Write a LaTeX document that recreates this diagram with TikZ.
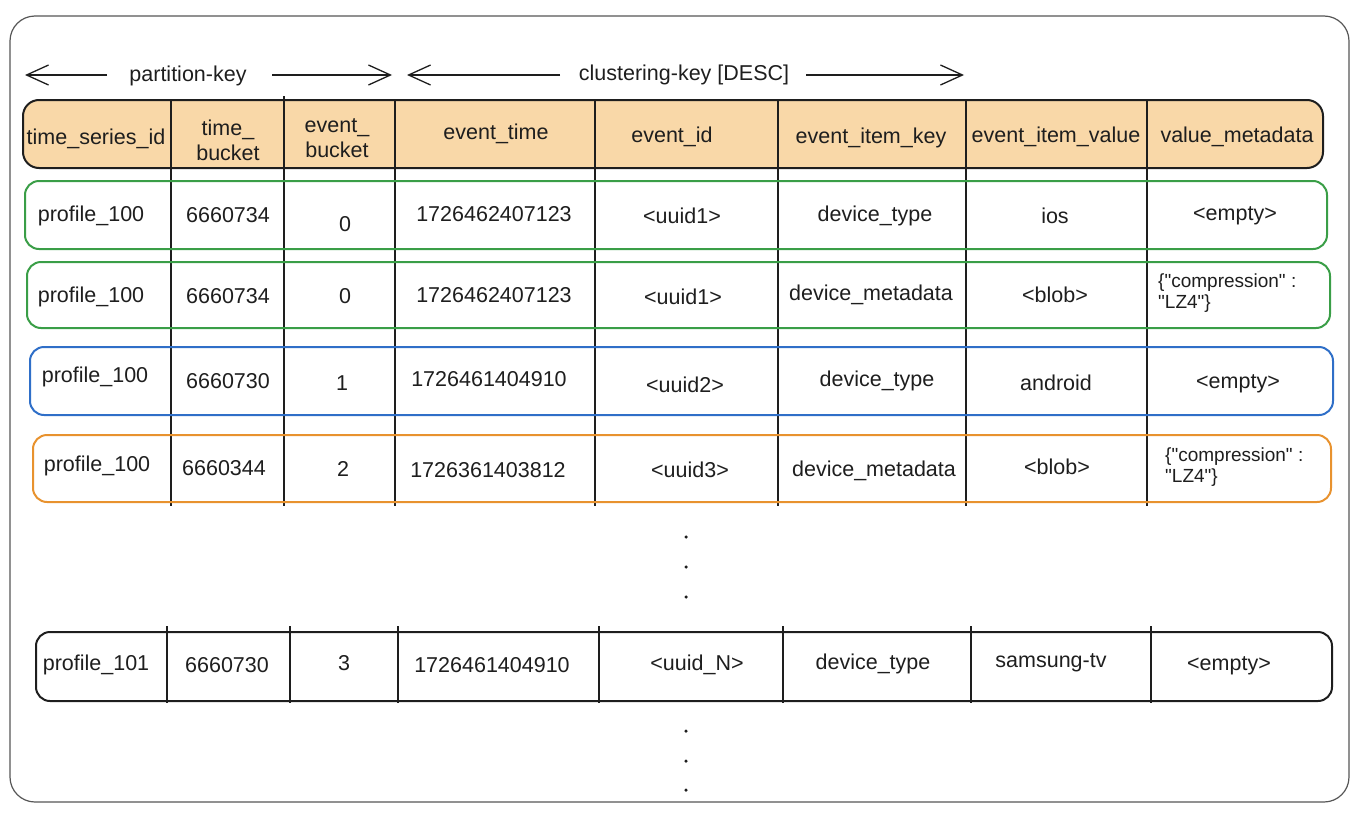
\documentclass[tikz,border=0pt]{standalone}
\usepackage{fontspec}
\setmainfont{Liberation Sans}[Ligatures=TeXOff]
\usetikzlibrary{arrows.meta}
\definecolor{hdrfill}{HTML}{F9D8A8}
\definecolor{rgreen}{HTML}{3A9E47}
\definecolor{rblue}{HTML}{2F6FC8}
\definecolor{rorange}{HTML}{E8922E}
\definecolor{ink}{HTML}{1E1E1E}
\begin{document}
\begin{tikzpicture}[x=1pt,y=-1pt,
  frame/.style={draw=ink!75, line width=1.2pt, rounded corners=25pt},
  hdr/.style={draw=ink, fill=hdrfill, line width=2pt, rounded corners=16pt},
  rowbox/.style={line width=2pt, rounded corners=14pt},
  divider/.style={draw=ink, line width=2pt},
  cell/.style={font=\fontsize{21.5}{25}\selectfont, text=ink, inner sep=0pt, align=center},
  meta/.style={font=\fontsize{19}{21}\selectfont, text=ink, inner sep=0pt, align=left, anchor=west},
  keyarrow/.style={draw=ink, line width=1.3pt, -{Straight Barb[length=22pt,width=20pt,line width=1.3pt]}},
  dotmark/.style={fill=ink, circle, inner sep=0pt, minimum size=3.5pt}
]
\useasboundingbox (0,0) rectangle (1360,814);
% outer frame
\draw[frame] (10,16) rectangle (1349,802);

% key arrows
\coordinate (pkA) at (107,75);
\coordinate (pkB) at (25,75);
\coordinate (pkC) at (272,75);
\coordinate (pkD) at (392,75);
\coordinate (ckA) at (560,75);
\coordinate (ckB) at (407,75);
\coordinate (ckC) at (806,75);
\coordinate (ckD) at (964,75);
\node[cell] (pk) at (188,76) {partition-key};
\node[cell] (ck) at (684,75) {clustering-key [DESC]};
\draw[keyarrow] (pkA) -- (pkB);
\draw[keyarrow] (pkC) -- (pkD);
\draw[keyarrow] (ckA) -- (ckB);
\draw[keyarrow] (ckC) -- (ckD);

% header
\draw[hdr] (23,100) rectangle (1323,168);

% column dividers (header + rows 1-4)
\foreach \x/\t in {171/100,284/96,395/100,595/100,778/100,966/100,1147/100}
  \draw[divider] (\x,\t) -- (\x,506);

% header texts
\node[cell] (h1) at (96,139) {time\_series\_id};
\node[cell] (h2) at (228,140) {time\_\\bucket};
\node[cell] (h3) at (337,138) {event\_\\bucket};
\node[cell] (h4) at (496,134) {event\_time};
\node[cell] (h5) at (672,137) {event\_id};
\node[cell] (h6) at (871,138) {event\_item\_key};
\node[cell] (h7) at (1056,137) {event\_item\_value};
\node[cell] (h8) at (1237,137) {value\_metadata};

% row 1
\draw[rowbox, draw=rgreen] (25,181) rectangle (1327,249);
\node[cell] (a1) at (91,216) {profile\_100};
\node[cell] (a2) at (228,215) {6660734};
\node[cell] (a3) at (345,224) {0};
\node[cell] (a4) at (494,214) {1726462407123};
\node[cell] (a5) at (682,216) {<uuid1>};
\node[cell] (a6) at (875,216) {device\_type};
\node[cell] (a7) at (1055,216) {ios};
\node[cell] (a8) at (1235,216) {<empty>};

% row 2
\draw[rowbox, draw=rgreen] (27,262) rectangle (1330,328);
\node[cell] (b1) at (91,297) {profile\_100};
\node[cell] (b2) at (228,296) {6660734};
\node[cell] (b3) at (345,296) {0};
\node[cell] (b4) at (494,295) {1726462407123};
\node[cell] (b5) at (683,297) {<uuid1>};
\node[cell] (b6) at (871,295) {device\_metadata};
\node[cell] (b7) at (1055,295) {<blob>};
\node[meta] (b8) at (1158,293) {\{"compression" :\\"LZ4"\}};

% row 3
\draw[rowbox, draw=rblue] (30,347) rectangle (1333,415);
\node[cell] (c1) at (95,377) {profile\_100};
\node[cell] (c2) at (228,381) {6660730};
\node[cell] (c3) at (342,383) {1};
\node[cell] (c4) at (489,379) {1726461404910};
\node[cell] (c5) at (685,385) {<uuid2>};
\node[cell] (c6) at (877,381) {device\_type};
\node[cell] (c7) at (1056,383) {android};
\node[cell] (c8) at (1238,384) {<empty>};

% row 4
\draw[rowbox, draw=rorange] (33,435) rectangle (1331,502);
\node[cell] (d1) at (97,466) {profile\_100};
\node[cell] (d2) at (224,468) {6660344};
\node[cell] (d3) at (343,469) {2};
\node[cell] (d4) at (488,470) {1726361403812};
\node[cell] (d5) at (690,470) {<uuid3>};
\node[cell] (d6) at (874,471) {device\_metadata};
\node[cell] (d7) at (1057,467) {<blob>};
\node[meta] (d8) at (1165,467) {\{"compression" :\\"LZ4"\}};

% dots
\node[dotmark] (p1) at (686,537) {};
\node[dotmark] (p2) at (686,567) {};
\node[dotmark] (p3) at (686,597) {};

% row 5
\draw[rowbox, draw=ink] (36,632) rectangle (1332,701);
\foreach \x in {167,290,398,599,783,971,1151}
  \draw[divider] (\x,626) -- (\x,703);
\node[cell] (e1) at (96,665) {profile\_101};
\node[cell] (e2) at (227,665) {6660730};
\node[cell] (e3) at (344,663) {3};
\node[cell] (e4) at (492,665) {1726461404910};
\node[cell] (e5) at (697,665) {<uuid\_N>};
\node[cell] (e6) at (873,664) {device\_type};
\node[cell] (e7) at (1051,663) {samsung-tv};
\node[cell] (e8) at (1229,666) {<empty>};

% dots
\node[dotmark] (q1) at (686,731) {};
\node[dotmark] (q2) at (686,761) {};
\node[dotmark] (q3) at (686,790) {};
\end{tikzpicture}
\end{document}
